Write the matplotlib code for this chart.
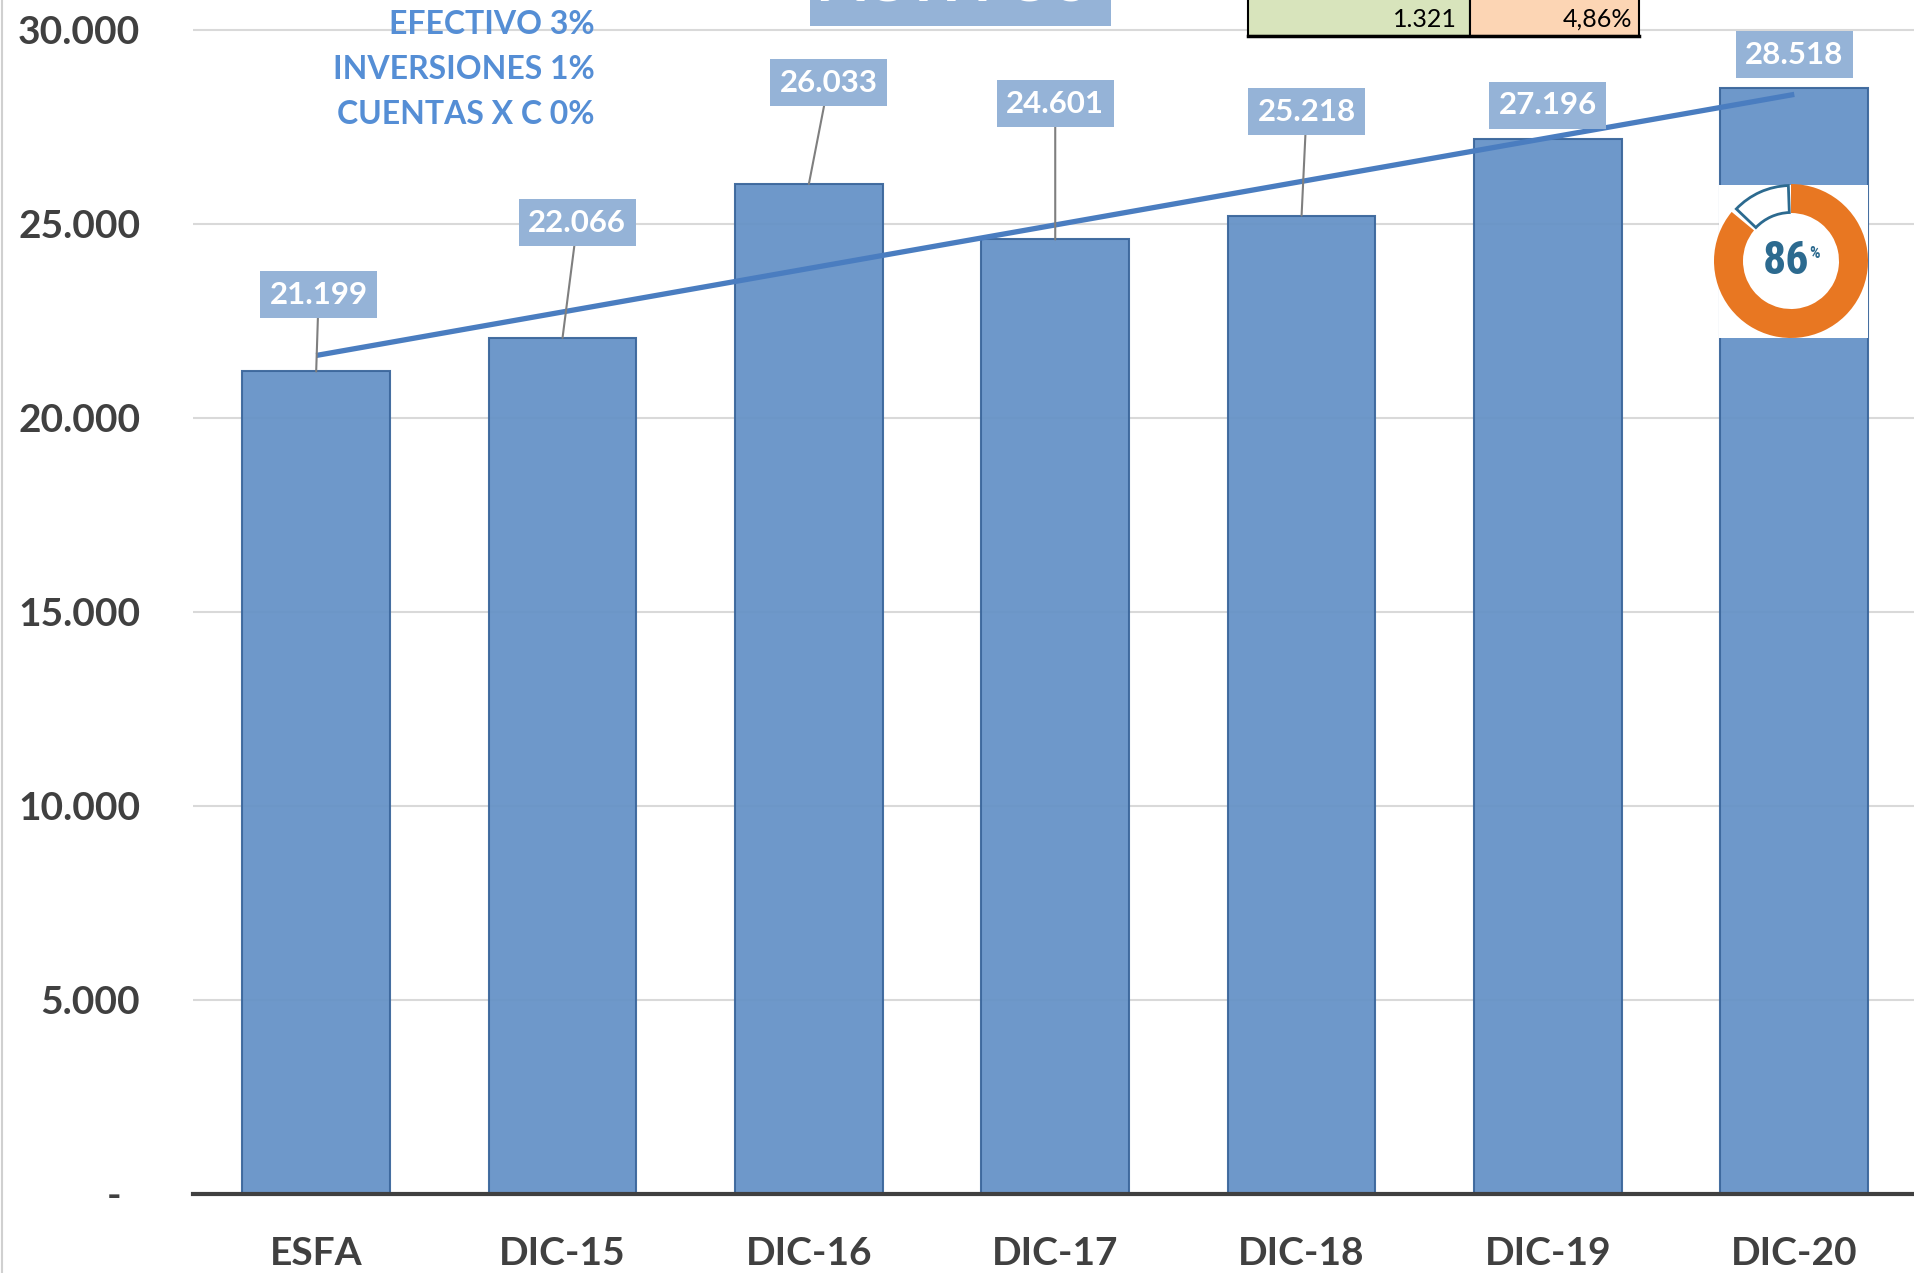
import numpy as np
import matplotlib
matplotlib.use("Agg")
import matplotlib.pyplot as plt
from matplotlib.patches import Rectangle, Wedge
from matplotlib.lines import Line2D
import logging
logging.getLogger('matplotlib.font_manager').setLevel(logging.ERROR)

plt.rcParams['font.family'] = ['Lato', 'DejaVu Sans']

# ---------------- data ----------------
categories = ["ESFA", "DIC-15", "DIC-16", "DIC-17", "DIC-18", "DIC-19", "DIC-20"]
values = [21199, 22066, 26033, 24601, 25218, 27196, 28518]
y_ticks = [0, 5000, 10000, 15000, 20000, 25000, 30000]
composition_lines = ["EFECTIVO 3%", "INVERSIONES 1%", "CUENTAS X C 0%"]
table_cells = ["1.321", "4,86%"]
title_text = "ACTIVOS"
donut_pct = 86

# label placement offsets (layout only): (dx in category units, dy in value units)
label_offsets = [(0.01, 1980), (0.06, 2970), (0.08, 2610), (0.0, 3500),
                 (0.02, 2680), (0.0, 860), (0.0, 850)]

W, H = 1915, 1273
fig = plt.figure(figsize=(W / 100, H / 100), dpi=100)

def fx(px):
    return px / W

def fy(py):
    return 1 - py / H

ax_left, ax_bottom_px = 193, 1194
ax = fig.add_axes([fx(ax_left), fy(ax_bottom_px), 1 - fx(ax_left), ax_bottom_px / H])

x = np.arange(len(categories))
ax.bar(x, values, width=0.6, color='#6693C7', edgecolor='#3C679C', linewidth=1.5,
       alpha=0.95, zorder=2)

ax.set_xlim(-0.5, 6.49)
ax.set_ylim(0, 30000 * ax_bottom_px / (ax_bottom_px - 30))
ax.set_yticks(y_ticks)

def fmt(v):
    return f"{v:,.0f}".replace(",", ".")

ax.set_yticklabels(["-  " if v == 0 else fmt(v) for v in y_ticks])
ax.set_xticks(x)
ax.set_xticklabels(categories)
ax.tick_params(axis='both', length=0, labelsize=28, labelcolor='#404040')
ax.tick_params(axis='y', pad=38)
ax.tick_params(axis='x', pad=30)
for lab in ax.get_xticklabels() + ax.get_yticklabels():
    lab.set_fontweight('bold')

ax.yaxis.grid(True, color='#D9D9D9', linewidth=1.5, zorder=0)
ax.set_axisbelow(True)
for s in ['top', 'right', 'left']:
    ax.spines[s].set_visible(False)
ax.spines['bottom'].set_color('#404040')
ax.spines['bottom'].set_linewidth(3)
ax.spines['bottom'].set_zorder(3)

# linear trendline
slope, intercept = np.polyfit(x, values, 1)
ax.plot([x[0], x[-1]], [intercept + slope * x[0], intercept + slope * x[-1]],
        color='#4A7DC0', linewidth=3.8, zorder=3, solid_capstyle='butt')

# data labels
for xi, v, (dx, dy) in zip(x, values, label_offsets):
    arrow = dict(arrowstyle='-', color='#7F7F7F', lw=1.5, shrinkA=0, shrinkB=0) if dy > 1500 else None
    ax.annotate(fmt(v), xy=(xi, v), xytext=(xi + dx, v + dy), textcoords='data',
                ha='center', va='center', fontsize=22.5, fontweight='bold', color='white',
                bbox=dict(boxstyle='square,pad=0.3', fc='#95B3D7', ec='none'),
                arrowprops=arrow, zorder=5)

# composition text at top left
for i, t in enumerate(composition_lines):
    fig.text(fx(595), fy(24 + 45.5 * i), t, ha='right', va='center', fontsize=23,
             fontweight='bold', color='#558ED5', zorder=6)

# partially visible title box
fig.patches.append(Rectangle((fx(810), fy(26)), fx(1111 - 810), 26 / H + 0.01,
                             transform=fig.transFigure, fc='#95B3D7', ec='none', zorder=5))
fig.text(fx(955), fy(1.5), title_text, ha='center', va='baseline', fontsize=45,
         fontweight='bold', color='white', zorder=6)

# partially visible table
for (l, r, col), txt in zip([(1248, 1470, '#D8E4BC'), (1470, 1639, '#FCD5B4')], table_cells):
    fig.patches.append(Rectangle((fx(l), fy(36)), fx(r - l), 36 / H + 0.01,
                                 transform=fig.transFigure, fc=col, ec='black', lw=1.5,
                                 zorder=5))
    fig.text(fx(r - 13 if col == '#D8E4BC' else r - 7), fy(27), txt, ha='right', va='baseline',
             fontsize=18, color='black', zorder=6)
fig.lines.append(Line2D([fx(1248), fx(1639)], [fy(36), fy(36)], transform=fig.transFigure,
                        color='black', lw=2.5, zorder=6))

# left border line
fig.lines.append(Line2D([fx(2), fx(2)], [0, 1], transform=fig.transFigure,
                        color='#D0D0D0', lw=1.5))

# donut badge
dax = fig.add_axes([fx(1719), fy(338), fx(1868 - 1719), (338 - 185) / H])
cx, cy = 1791, 261
dax.set_xlim(1719 - cx, 1868 - cx)
dax.set_ylim(-(338 - cy), cy - 185)
dax.set_facecolor('white')
dax.axis('off')
dax.add_patch(Rectangle((1719 - cx, -(338 - cy)), 1868 - 1719, 338 - 185, fc='white',
                        ec='none', zorder=0))
gap = 360 * (1 - donut_pct / 100)
dax.add_patch(Wedge((0, 0), 77, 90 + gap, 450, width=29, fc='#E87722', ec='none',
                    clip_on=False, zorder=2))
dax.add_patch(Wedge((0, 0), 75.5, 92, 90 + gap - 4, width=27, fc='white', ec='#2C6A8F',
                    lw=2, clip_on=False, zorder=2))
narrow = ['Roboto Condensed', 'Liberation Sans Narrow', 'DejaVu Sans']
dax.text(-5, 0, f"{donut_pct}", ha='center', va='center', fontsize=33, fontweight='bold',
         color='#2C6A8F', family=narrow, fontstretch='condensed')
dax.text(18, 8, "%", ha='left', va='center', fontsize=12, fontweight='bold',
         color='#2C6A8F', family=narrow, fontstretch='condensed')

fig.savefig("out.png", dpi=100)
